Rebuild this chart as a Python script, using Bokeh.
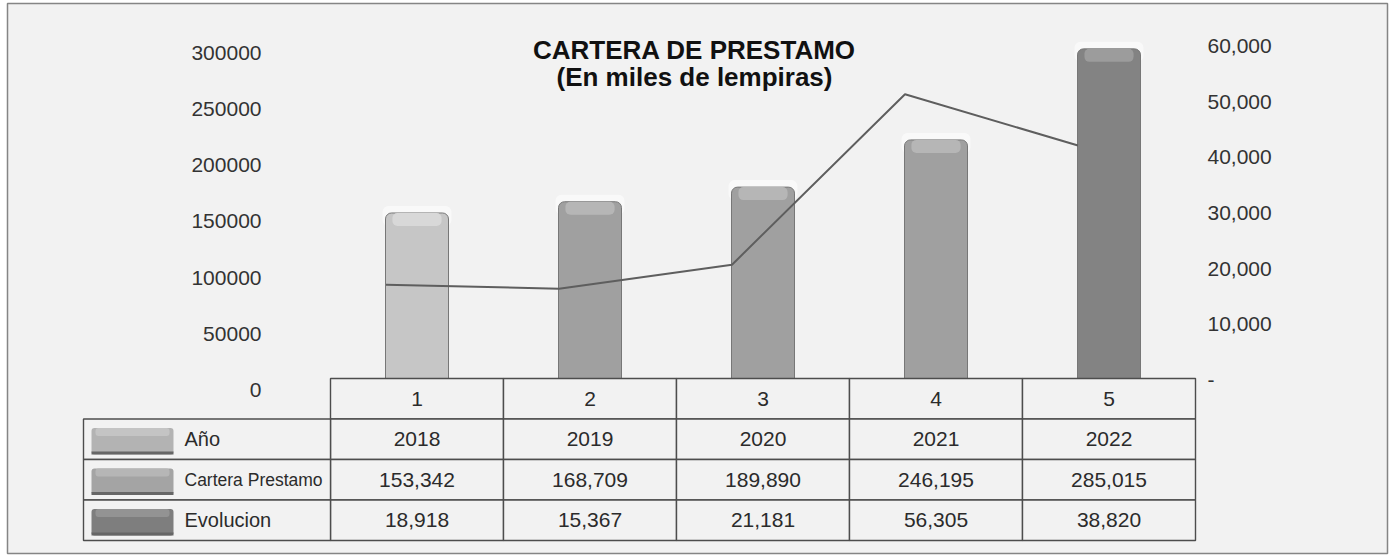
from bokeh.plotting import figure
from bokeh.models import Range1d, LinearAxis, FixedTicker, NumeralTickFormatter, ColumnDataSource
from bokeh.core.properties import value
from bokeh.embed import file_html
from bokeh.resources import INLINE

# ---------------- data ----------------
indices = [1, 2, 3, 4, 5]
years = [2018, 2019, 2020, 2021, 2022]
cartera_table = [153342, 168709, 189890, 246195, 285015]
evolucion_table = [18918, 15367, 21181, 56305, 38820]
bar_heights = [157500, 167500, 180500, 222500, 303500]   # bars as drawn (left axis)
line_values = [17100, 16400, 20700, 51300, 42100]        # line as drawn (right axis)
bar_colors = ["#c6c6c6", "#a0a0a0", "#a0a0a0", "#a0a0a0", "#838383"]
cap_colors = ["#d8d8d8", "#b6b6b6", "#b6b6b6", "#b6b6b6", "#9c9c9c"]
left_ticks = [0, 50000, 100000, 150000, 200000, 250000, 300000]
right_ticks = [0, 10000, 20000, 30000, 40000, 50000, 60000]
row_labels = ["Año", "Cartera Prestamo", "Evolucion"]
row_label_sizes = ["20px", "17.5px", "20px"]
swatch_colors = ["#b3b3b3", "#a4a4a4", "#7e7e7e"]
swatch_caps = ["#c4c4c4", "#b6b6b6", "#939393"]
title_lines = ["CARTERA DE PRESTAMO", "(En miles de lempiras)"]

# ---------------- layout (page pixels) ----------------
W, H = 1390, 558
FL, FT, FR, FB = 7, 3, 1387, 553     # chart frame edges
COL0, COLW = 330.0, 173.0
ROW0, ROWH = 378.0, 40.5
LEG_L = 83.0
L0, LPX = 389.5, 56.2 / 50000.0
R0, RPX = 379.5, 55.7 / 10000.0


def xd(px):
    return 0.5 + (px - COL0) / COLW


def yl(py):
    return (L0 - py) / LPX


def yr(py):
    return (R0 - py) / RPX


def yt(py):
    return (py - ROW0) / ROWH


p = figure(width=W, height=H, output_backend="svg", toolbar_location=None,
           x_range=Range1d(xd(FL), xd(FR)), y_range=Range1d(yl(FB), yl(FT)),
           x_axis_location=None, y_axis_location=None,
           min_border_left=FL, min_border_top=FT, min_border_right=W - FR, min_border_bottom=H - FB,
           background_fill_color="#f2f2f2", border_fill_color="white")
p.extra_y_ranges = {"right": Range1d(yr(FB), yr(FT)), "tbl": Range1d(yt(FB), yt(FT))}
p.grid.visible = False
p.outline_line_color = "#858585"
p.outline_line_width = 1.5

FONT = "Liberation Sans"


def style_axis(ax):
    ax.axis_line_color = None
    ax.major_tick_line_color = None
    ax.minor_tick_line_color = None
    ax.major_tick_out = 0
    ax.major_tick_in = 0
    ax.major_label_standoff = 6
    ax.major_label_text_font = FONT
    ax.major_label_text_font_size = "21px"
    ax.major_label_text_color = "#333333"


ax_l = LinearAxis(ticker=FixedTicker(ticks=left_ticks), formatter=NumeralTickFormatter(format="0"),
                  fixed_location=xd(267))
style_axis(ax_l)
p.add_layout(ax_l, "left")
ax_r = LinearAxis(y_range_name="right", ticker=FixedTicker(ticks=right_ticks),
                  formatter=NumeralTickFormatter(format="0,0"), major_label_overrides={0: "-"},
                  fixed_location=xd(1201))
style_axis(ax_r)
p.add_layout(ax_r, "right")

# ---------------- bars ----------------
BW = 63.0 / COLW
CAP = 13.0 / LPX
bsrc = ColumnDataSource(dict(x=indices, top=bar_heights, color=bar_colors, cap=cap_colors,
                             capb=[h - CAP for h in bar_heights],
                             glow=[h + 7.0 / LPX for h in bar_heights]))
p.vbar(x="x", top="glow", bottom="capb", width=BW + 6.0 / COLW, fill_color="white",
       fill_alpha=0.55, line_color=None, border_radius=6, source=bsrc)
p.vbar(x="x", top="top", bottom=0, width=BW, fill_color="color", line_color="#777777",
       line_width=1, border_radius=6, source=bsrc)
p.vbar(x="x", top="top", bottom="capb", width=BW * 0.78, fill_color="cap", line_color=None,
       border_radius=5, source=bsrc)

# ---------------- line ----------------
LOFF = 31.0 / COLW
p.line(x=[i - LOFF for i in indices], y=line_values, y_range_name="right",
       line_color="#5e5e5e", line_width=2)

# ---------------- data table ----------------
cl, cr, ct, cb = [], [], [], []
for i in indices:
    for r in range(4):
        cl.append(i - 0.5); cr.append(i + 0.5); ct.append(r); cb.append(r + 1)
for r in range(1, 4):
    cl.append(xd(LEG_L)); cr.append(0.5); ct.append(r); cb.append(r + 1)
p.quad(left=cl, right=cr, top=ct, bottom=cb, y_range_name="tbl",
       fill_color="#f2f2f2", line_color="#4d4d4d", line_width=1.4)

tx, ty, tt = [], [], []
for k, i in enumerate(indices):
    tx += [i] * 4
    ty += [0.5, 1.5, 2.5, 3.5]
    tt += [str(i), str(years[k]), f"{cartera_table[k]:,}", f"{evolucion_table[k]:,}"]
p.text(x=tx, y=ty, text=tt, y_range_name="tbl", text_align="center", text_baseline="middle",
       text_font=value(FONT), text_font_size="21px", text_color="#2b2b2b")

# legend swatches + labels
rows = [1, 2, 3]
sw_top = [r + 9.0 / ROWH for r in rows]
sw_bot = [r + 1 - 5.0 / ROWH for r in rows]
p.quad(left=xd(91), right=xd(173), top=sw_top, bottom=sw_bot, y_range_name="tbl",
       fill_color=swatch_colors, line_color=None, border_radius=3)
p.quad(left=xd(95), right=xd(169), top=sw_top, bottom=[t + 8.0 / ROWH for t in sw_top],
       y_range_name="tbl", fill_color=swatch_caps, line_color=None, border_radius=3)
p.quad(left=xd(91), right=xd(173), top=[b - 3.0 / ROWH for b in sw_bot], bottom=sw_bot,
       y_range_name="tbl", fill_color="#666666", line_color=None)
p.text(x=[xd(184)] * 3, y=[r + 0.5 for r in rows], text=row_labels, y_range_name="tbl",
       text_align="left", text_baseline="middle", text_font=value(FONT),
       text_font_size=row_label_sizes, text_color="#2b2b2b")

# ---------------- title ----------------
p.text(x=[xd(694)] * 2, y=[yl(49), yl(76)], text=title_lines, text_align="center",
       text_baseline="middle", text_font=value(FONT), text_font_size="26px",
       text_font_style="bold", text_color="#111111")

open("out.html", "w").write(file_html(p, INLINE))
